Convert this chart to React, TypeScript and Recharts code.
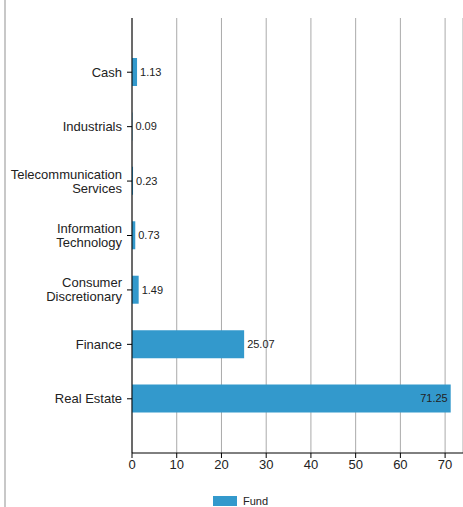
import React from 'react';
import { BarChart, Bar, XAxis, YAxis, CartesianGrid, Legend, LabelList } from 'recharts';

const sectors = [
  'Cash',
  'Industrials',
  'Telecommunication Services',
  'Information Technology',
  'Consumer Discretionary',
  'Finance',
  'Real Estate',
];
const fundValues = [1.13, 0.09, 0.23, 0.73, 1.49, 25.07, 71.25];
const xTicks = [0, 10, 20, 30, 40, 50, 60, 70];

const data = sectors.map((name, i) => ({ name, fund: fundValues[i] }));

const FONT = '"Liberation Sans", Arial, sans-serif';
const BLUE = '#3399cc';

const SectorTick = (props: any) => {
  const { x, y, payload } = props;
  const name: string = payload.value;
  const lines = name.length > 12 ? name.split(' ') : [name];
  const lh = 14;
  const start = -((lines.length - 1) * lh) / 2;
  return (
    <g transform={`translate(${x},${y})`}>
      <text textAnchor="end" fill="#222" fontSize={13} fontFamily={FONT}>
        {lines.map((ln, i) => (
          <tspan key={i} x={-3} y={start + i * lh} dy="0.35em">
            {ln}
          </tspan>
        ))}
      </text>
    </g>
  );
};

const ValueLabel = (props: any) => {
  const { x, y, width, height, value } = props;
  const inside = value > 60;
  return (
    <text
      x={inside ? x + width - 3 : x + width + 3}
      y={y + height / 2}
      dy="0.35em"
      textAnchor={inside ? 'end' : 'start'}
      fill="#222"
      fontSize={11}
      fontFamily={FONT}
    >
      {value}
    </text>
  );
};

const FundLegend = () => (
  <div style={{ height: 37, position: 'relative', fontFamily: FONT, fontSize: 11, color: '#222' }}>
    <div style={{ position: 'absolute', left: 213, top: 12, display: 'flex', alignItems: 'center', lineHeight: '12px' }}>
      <span style={{ display: 'inline-block', width: 24, height: 10, background: BLUE, marginRight: 6 }} />
      <span>Fund</span>
    </div>
  </div>
);

export default function App() {
  return (
    <div style={{ position: 'absolute', left: 0, top: 0, width: 463, height: 507, overflow: 'hidden', background: '#fff' }}>
      <div style={{ position: 'absolute', left: 4, top: 0, width: 2, height: 507, background: '#c8c8c8' }} />
      <BarChart
        layout="vertical"
        width={463}
        height={520}
        data={data}
        margin={{ top: 18, right: 0, left: 0, bottom: 0 }}
      >
        <CartesianGrid horizontal={false} stroke="#aaa" strokeWidth={1} />
        <XAxis
          type="number"
          domain={[0, 74]}
          ticks={xTicks}
          allowDataOverflow
          height={30}
          axisLine={{ stroke: '#000' }}
          tickLine={{ stroke: '#000' }}
          tickSize={5}
          tick={{ fill: '#222', fontSize: 13, fontFamily: FONT }}
        />
        <YAxis
          type="category"
          dataKey="name"
          width={132}
          padding={{ top: 27, bottom: 27 }}
          axisLine={{ stroke: '#000' }}
          tickLine={{ stroke: '#000' }}
          tickSize={5}
          tick={<SectorTick />}
          interval={0}
        />
        <Legend verticalAlign="bottom" content={<FundLegend />} />
        <Bar dataKey="fund" name="Fund" fill={BLUE} barSize={28} isAnimationActive={false}>
          <LabelList dataKey="fund" content={<ValueLabel />} />
        </Bar>
      </BarChart>
    </div>
  );
}
